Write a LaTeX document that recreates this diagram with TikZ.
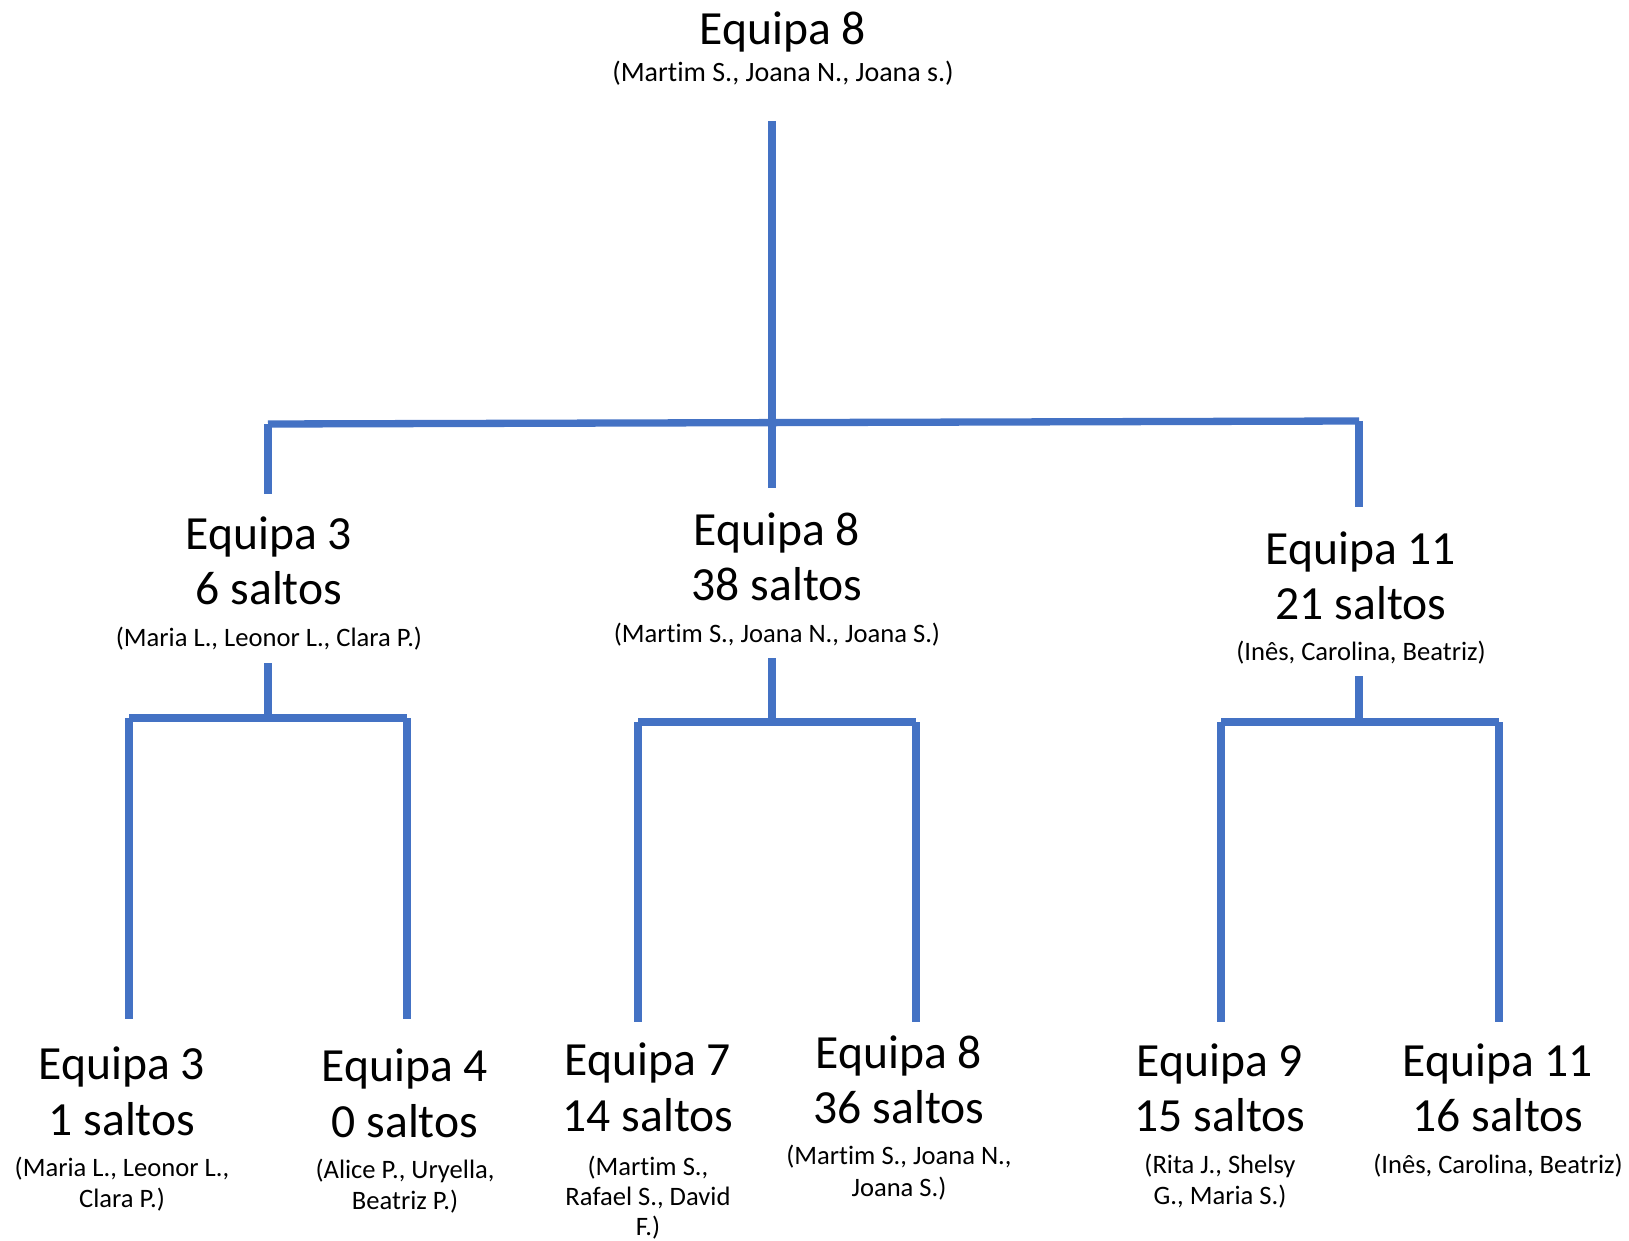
\documentclass[tikz,border=0pt]{standalone}
\usepackage{fontspec}
\setmainfont{Carlito}[Ligatures=NoCommon]
\definecolor{lineblue}{HTML}{4472C4}
\newcommand\bigtxt{\fontsize{23.8}{28}\selectfont}
\newcommand\smalltxt{\fontsize{13.3}{16}\selectfont}
\newcommand\topsmalltxt{\fontsize{14}{17}\selectfont}
\begin{document}
\begin{tikzpicture}[x=0.5pt,y=-0.5pt,
  conn/.style={draw=lineblue, line width=3.65pt},
  bigl/.style={font=\bigtxt, anchor=base, inner sep=0pt},
  smalll/.style={font=\smalltxt, anchor=base, inner sep=0pt},
  topsmall/.style={font=\topsmalltxt, anchor=base, inner sep=0pt}]
\useasboundingbox (0,0) rectangle (1629,1241);
% ---------- text ----------
\node[bigl] (rootA) at (783,45) {Equipa 8};
\node[topsmall] (rootB) at (783,82) {(Martim S., Joana N., Joana s.)};

\node[bigl] (lA) at (269,549) {Equipa 3};
\node[bigl] (lB) at (269,604) {6 saltos};
\node[smalll] (lC) at (269,646) {(Maria L., Leonor L., Clara P.)};

\node[bigl] (mA) at (777,545) {Equipa 8};
\node[bigl] (mB) at (777,600) {38 saltos};
\node[smalll] (mC) at (777,642) {(Martim S., Joana N., Joana S.)};

\node[bigl] (rA) at (1361,564) {Equipa 11};
\node[bigl] (rB) at (1361,619) {21 saltos};
\node[smalll] (rC) at (1361,660) {(Inês, Carolina, Beatriz)};

\node[bigl] (b1A) at (122,1079) {Equipa 3};
\node[bigl] (b1B) at (122,1135) {1 saltos};
\node[smalll] (b1C) at (122,1176) {(Maria L., Leonor L.,};
\node[smalll] (b1D) at (122,1207) {Clara P.)};

\node[bigl] (b2A) at (405,1081) {Equipa 4};
\node[bigl] (b2B) at (405,1137) {0 saltos};
\node[smalll] (b2C) at (405,1178) {(Alice P., Uryella,};
\node[smalll] (b2D) at (405,1209) {Beatriz P.)};

\node[bigl] (b3A) at (648,1075) {Equipa 7};
\node[bigl] (b3B) at (648,1131) {14 saltos};
\node[smalll] (b3C) at (648,1175) {(Martim S.,};
\node[smalll] (b3D) at (648,1205) {Rafael S., David};
\node[smalll] (b3E) at (648,1235) {F.)};

\node[bigl] (b4A) at (899,1068) {Equipa 8};
\node[bigl] (b4B) at (899,1123) {36 saltos};
\node[smalll] (b4C) at (899,1164) {(Martim S., Joana N.,};
\node[smalll] (b4D) at (899,1196) {Joana S.)};

\node[bigl] (b5A) at (1220,1076) {Equipa 9};
\node[bigl] (b5B) at (1220,1131) {15 saltos};
\node[smalll] (b5C) at (1220,1173) {(Rita J., Shelsy};
\node[smalll] (b5D) at (1220,1204) {G., Maria S.)};

\node[bigl] (b6A) at (1498,1076) {Equipa 11};
\node[bigl] (b6B) at (1498,1131) {16 saltos};
\node[smalll] (b6C) at (1498,1173) {(Inês, Carolina, Beatriz)};

% ---------- connector points ----------
\coordinate (rootTop) at (772,121);
\coordinate (rootBot) at (772,488);
\coordinate (hL) at (268,424);
\coordinate (hR) at (1359,421);
\coordinate (lTop) at (268,494);
\coordinate (rTop) at (1359,507);

\coordinate (lStub) at (268,663);
\coordinate (lJoin) at (268,718);
\coordinate (lhL) at (129,718);
\coordinate (lhR) at (407,718);
\coordinate (b1Top) at (129,1019);
\coordinate (b2Top) at (407,1019);

\coordinate (mStub) at (772,658);
\coordinate (mJoin) at (772,722);
\coordinate (mhL) at (638,722);
\coordinate (mhR) at (916,722);
\coordinate (b3Top) at (638,1022);
\coordinate (b4Top) at (916,1022);

\coordinate (rStub) at (1359,676);
\coordinate (rJoin) at (1359,722);
\coordinate (rhL) at (1221,722);
\coordinate (rhR) at (1499,722);
\coordinate (b5Top) at (1221,1022);
\coordinate (b6Top) at (1499,1022);

% ---------- connectors ----------
\draw[conn] (rootTop) -- (rootBot);
\draw[conn] (hL) -- (hR);
\draw[conn] (hL) -- (lTop);
\draw[conn] (hR) -- (rTop);

\draw[conn] (lStub) -- (lJoin);
\draw[conn] (lhL) -- (lhR);
\draw[conn] (lhL) -- (b1Top);
\draw[conn] (lhR) -- (b2Top);

\draw[conn] (mStub) -- (mJoin);
\draw[conn] (mhL) -- (mhR);
\draw[conn] (mhL) -- (b3Top);
\draw[conn] (mhR) -- (b4Top);

\draw[conn] (rStub) -- (rJoin);
\draw[conn] (rhL) -- (rhR);
\draw[conn] (rhL) -- (b5Top);
\draw[conn] (rhR) -- (b6Top);
\end{tikzpicture}
\end{document}
